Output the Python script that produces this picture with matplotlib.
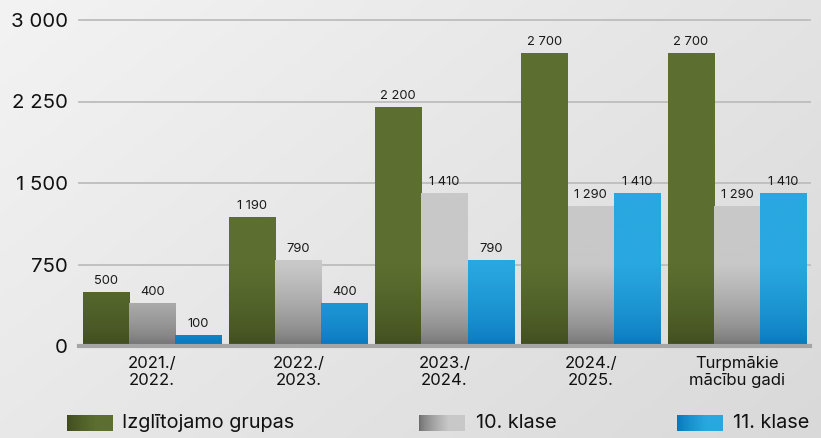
import numpy as np
import matplotlib
matplotlib.use('Agg')
import matplotlib.pyplot as plt
from matplotlib.colors import LinearSegmentedColormap

plt.rcParams['font.family'] = ['Inter', 'DejaVu Sans']

# dati
categories = ['2021./\n2022.', '2022./\n2023.', '2023./\n2024.', '2024./\n2025.', 'Turpmākie\nmācību gadi']
series_names = ['Izglītojamo grupas', '10. klase', '11. klase']
grupas = [500, 1190, 2200, 2700, 2700]
klase10 = [400, 790, 1410, 1290, 1290]
klase11 = [100, 400, 790, 1410, 1410]
yticks = [0, 750, 1500, 2250, 3000]

# krāsas: (apakša, augša)
colors = [('#3e4a1e', '#5c6f30'), ('#6c6c6c', '#c8c8c8'), ('#0673bb', '#29a7e0')]

def fmt(v):
    return '{:,}'.format(v).replace(',', ' ')

fig = plt.figure(figsize=(8.21, 4.38), dpi=100)

# fons ar gradientu
bg = fig.add_axes([0, 0, 1, 1], zorder=-10)
gx, gy = np.meshgrid(np.linspace(0, 1, 200), np.linspace(0, 1, 200))
bg.imshow(0.6 * gx + 0.4 * gy, cmap=LinearSegmentedColormap.from_list('bg', ['#f3f3f3', '#d9d9d9']),
          extent=[0, 1, 1, 0], aspect='auto', vmin=0, vmax=1)
bg.axis('off')

ax = fig.add_axes([79 / 821, 1 - 346 / 438, 731 / 821, 326 / 438])
ax.patch.set_alpha(0)

width = 0.316
x = np.arange(len(categories))

for i, vals in enumerate([grupas, klase10, klase11]):
    cmap = LinearSegmentedColormap.from_list('c%d' % i, [colors[i][0], colors[i][1]])
    bars = ax.bar(x + (i - 1) * width, vals, width, facecolor='none', edgecolor='none', zorder=3)
    for b, v in zip(bars, vals):
        x0 = b.get_x()
        # gradients no 0 līdz 750, tad vienā krāsā
        ys = np.linspace(0, v, 200).reshape(-1, 1)
        t = np.clip(ys / 750.0, 0, 1) ** 0.6
        im = ax.imshow(t, cmap=cmap, vmin=0, vmax=1, origin='lower', aspect='auto',
                       extent=[x0, x0 + width, 0, v], zorder=3)
        im.set_clip_path(b)
        ax.text(x0 + width / 2, v + 45, fmt(v), ha='center', va='bottom', fontsize=9.3, color='#1a1a1a')

for yv in yticks[1:]:
    ax.axhline(yv, color='#bdbdbd', lw=1.3, zorder=1, clip_on=False)
ax.axhline(0, color='#a5a5a5', lw=3, zorder=4, clip_on=False)

ax.set_xlim(-0.5, len(categories) - 0.5)
ax.set_ylim(0, 3000)
ax.set_yticks(yticks)
ax.set_yticklabels([fmt(v) for v in yticks], fontsize=14.7, color='#111111')
ax.set_xticks(x)
ax.set_xticklabels(categories, fontsize=12, color='#111111', linespacing=1.2)
ax.tick_params(length=0, axis='y', pad=8)
ax.tick_params(length=0, axis='x', pad=7)
for s in ax.spines.values():
    s.set_visible(False)

# leģenda
lax = fig.add_axes([0, 0, 1, 1], zorder=5)
lax.set_xlim(0, 821)
lax.set_ylim(438, 0)
lax.axis('off')
lg = np.clip(np.linspace(0, 1, 100) / 0.65, 0, 1).reshape(1, -1) ** 0.7
for i, (px, tx) in enumerate([(67, 122), (419, 476), (677, 733)]):
    cmap = LinearSegmentedColormap.from_list('l%d' % i, [colors[i][0], colors[i][1]])
    lax.imshow(lg, cmap=cmap, vmin=0, vmax=1, extent=[px, px + 46, 431, 415], aspect='auto')
    lax.text(tx, 423, series_names[i], ha='left', va='center', fontsize=14.3, color='#111111')

fig.savefig('out.png', dpi=100)
